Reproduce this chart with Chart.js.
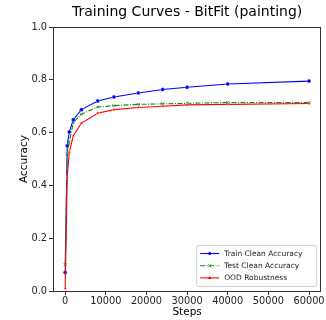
<!DOCTYPE html>
<html><head><meta charset="utf-8">
<script src="https://cdn.jsdelivr.net/npm/chart.js@4"></script>
<style>html,body{margin:0;padding:0;background:#fff}#wrap{width:326px;height:320px}</style>
</head><body><div id="wrap"><canvas id="c" width="326" height="320"></canvas></div>
<script>
const steps = [0, 500, 1000, 2000, 4000, 8000, 12000, 18000, 24000, 30000, 40000, 60000];
const trainClean = [0.07, 0.55, 0.602, 0.649, 0.687, 0.720, 0.735, 0.750, 0.763, 0.772, 0.784, 0.795];
const testClean  = [0.10, 0.52, 0.564, 0.638, 0.670, 0.697, 0.702, 0.707, 0.709, 0.711, 0.714, 0.714];
const oodRobust  = [0.01, 0.43, 0.526, 0.588, 0.636, 0.673, 0.687, 0.695, 0.700, 0.705, 0.707, 0.710];
const xTicks = [0, 10000, 20000, 30000, 40000, 50000, 60000];
const yTicks = [0.0, 0.2, 0.4, 0.6, 0.8, 1.0];
const seriesLabels = ['Train Clean Accuracy', 'Test Clean Accuracy', 'OOD Robustness'];

const FONT = 'DejaVu Sans';
const pts = (xs, ys) => xs.map((x, i) => ({x, y: ys[i]}));

const legendPlugin = {
  id: 'innerLegend',
  afterDraw(chart) {
    const {ctx, chartArea: a} = chart;
    ctx.save();
    ctx.strokeStyle = '#333';
    ctx.lineWidth = 1;
    ctx.strokeRect(Math.round(a.left) + 0.5, Math.round(a.top) + 0.5, Math.round(a.right - a.left) - 1, Math.round(a.bottom - a.top));
    const w = 120, h = 41;
    const x0 = a.right - 5 - w, y0 = a.bottom - 5 - h;
    ctx.fillStyle = 'rgba(255,255,255,0.85)';
    ctx.strokeStyle = '#d0d0d0';
    ctx.beginPath();
    ctx.roundRect(x0 + 0.5, y0 + 0.5, w, h, 2);
    ctx.fill(); ctx.stroke();
    ctx.font = '7.5px "' + FONT + '"';
    ctx.textBaseline = 'middle';
    chart.data.datasets.forEach((ds, i) => {
      const yy = y0 + 8.5 + i * 12.2;
      ctx.strokeStyle = ds.borderColor;
      ctx.lineWidth = 1.1;
      ctx.setLineDash(ds.borderDash || []);
      ctx.beginPath(); ctx.moveTo(x0 + 4, yy); ctx.lineTo(x0 + 23, yy); ctx.stroke();
      ctx.setLineDash([]);
      const mx = x0 + 13.5;
      ctx.fillStyle = ds.pointBackgroundColor;
      ctx.beginPath();
      if (ds.pointStyle === 'circle') { ctx.arc(mx, yy, 1.6, 0, Math.PI * 2); ctx.fill(); }
      else if (ds.pointStyle === 'triangle') { ctx.moveTo(mx, yy - 1.8); ctx.lineTo(mx + 1.7, yy + 1.2); ctx.lineTo(mx - 1.7, yy + 1.2); ctx.closePath(); ctx.fill(); }
      else { ctx.strokeStyle = ds.borderColor; ctx.lineWidth = 0.8; ctx.moveTo(mx - 1.5, yy - 1.5); ctx.lineTo(mx + 1.5, yy + 1.5); ctx.moveTo(mx + 1.5, yy - 1.5); ctx.lineTo(mx - 1.5, yy + 1.5); ctx.stroke(); }
      ctx.fillStyle = '#222';
      ctx.fillText(ds.label, x0 + 28, yy + 0.5);
    });
    ctx.restore();
  }
};

new Chart(document.getElementById('c'), {
  type: 'line',
  data: {
    datasets: [
      { label: seriesLabels[0], data: pts(steps, trainClean), borderColor: '#0000ff', backgroundColor: '#0000ff', order: 3,
        pointStyle: 'circle', pointRadius: 2, pointBackgroundColor: '#0000ff', pointBorderColor: '#ffffff', pointBorderWidth: 0.4, borderWidth: 1.1 },
      { label: seriesLabels[1], data: pts(steps, testClean), borderColor: '#108a10', backgroundColor: '#108a10', borderDash: [5, 1.5, 1, 1.5], order: 2,
        pointStyle: 'crossRot', pointRadius: 2, pointBackgroundColor: '#108a10', pointBorderColor: '#108a10', pointBorderWidth: 0.8, borderWidth: 1.1 },
      { label: seriesLabels[2], data: pts(steps, oodRobust), borderColor: '#ff0000', backgroundColor: '#ff0000', order: 1,
        pointStyle: 'triangle', pointRadius: 2, pointBackgroundColor: '#ff0000', pointBorderColor: '#ffffff', pointBorderWidth: 0.4, borderWidth: 1.1 }
    ]
  },
  options: {
    responsive: false, animation: false, devicePixelRatio: 1,
    layout: { padding: { left: 0, right: 4, top: 0, bottom: 0 } },
    plugins: {
      legend: { display: false },
      tooltip: { enabled: false },
      title: { display: true, text: 'Training Curves - BitFit (painting)', fullSize: false, color: '#000',
        font: { family: FONT, size: 14, weight: 'normal' }, padding: { top: 4, bottom: 6.2 } }
    },
    scales: {
      x: {
        type: 'linear', min: -3000, max: 63000,
        afterBuildTicks: s => { s.ticks = xTicks.map(v => ({value: v})); },
        afterFit: s => { s.height = 29; },
        ticks: { color: '#222', font: { family: FONT, size: 9.8 }, padding: 1, maxRotation: 0, autoSkip: false, callback: v => String(v) },
        grid: { drawOnChartArea: false, tickLength: 4, tickColor: '#333', color: '#333' },
        border: { display: false },
        title: { display: true, text: 'Steps', color: '#000', font: { family: FONT, size: 10.5 }, padding: { top: 0, bottom: 1.5 } }
      },
      y: {
        type: 'linear', min: 0, max: 1,
        afterBuildTicks: s => { s.ticks = yTicks.map(v => ({value: v})); },
        afterFit: s => { s.width = 53; },
        ticks: { color: '#222', font: { family: FONT, size: 9.8 }, padding: 2, callback: v => v.toFixed(1) },
        grid: { drawOnChartArea: false, tickLength: 4, tickColor: '#333', color: '#333' },
        border: { display: false },
        title: { display: true, text: 'Accuracy', color: '#000', font: { family: FONT, size: 10.5 }, padding: { top: 17.5, bottom: 0 } }
      }
    }
  },
  plugins: [legendPlugin]
});
</script></body></html>
